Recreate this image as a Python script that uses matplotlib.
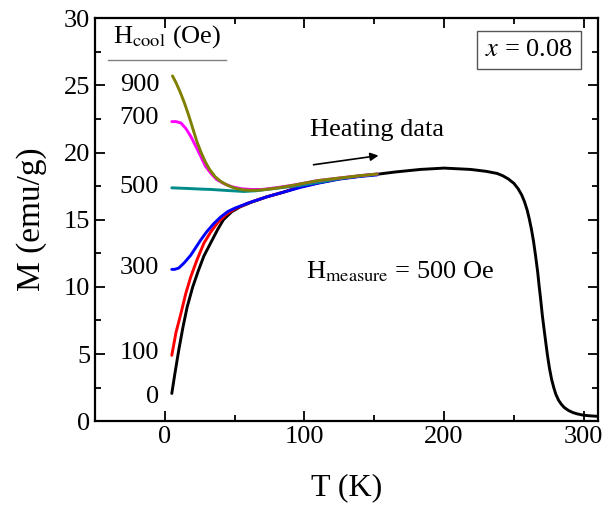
import numpy as np
import matplotlib.pyplot as plt
from matplotlib.ticker import MultipleLocator

plt.rcParams['font.family'] = ['Liberation Serif', 'DejaVu Serif']
plt.rcParams['mathtext.fontset'] = 'stix'

# heating curves, H_measure = 500 Oe
t_0 = [5, 7, 10, 13, 16, 20, 24, 28, 33, 38, 42, 48, 54, 62, 73, 85, 97, 110, 125, 140, 152,
       165, 183, 200, 219, 230, 238, 242, 246, 250, 253, 255.5, 257.5, 259.5, 261, 262.5, 264,
       265.5, 267, 268, 269.2, 270.3, 271.5, 272.8, 274, 275.5, 277, 278.5, 280, 282, 284, 286,
       289, 292, 295, 299, 303, 307, 310]
m_0 = [2.06, 3.4, 5.3, 7.0, 8.5, 10.0, 11.2, 12.3, 13.3, 14.3, 15.0, 15.6, 15.96, 16.3, 16.7, 17.05,
       17.45, 17.75, 18.05, 18.25, 18.38, 18.55, 18.74, 18.84, 18.74, 18.6, 18.44, 18.27, 18.03, 17.7,
       17.3, 16.85, 16.35, 15.7, 15.05, 14.3, 13.4, 12.3, 11.1, 10.1, 9.0, 7.9, 6.9, 5.85, 4.9,
       3.9, 3.1, 2.5, 2.0, 1.55, 1.25, 1.02, 0.8, 0.65, 0.55, 0.46, 0.41, 0.38, 0.36]

t_100 = [5, 8, 11.5, 15, 18.6, 23, 28, 33, 38, 44, 50, 60, 73, 85, 97, 110, 125, 140, 152]
m_100 = [4.9, 6.6, 8.0, 9.5, 10.75, 12.0, 13.25, 14.1, 14.8, 15.4, 15.8, 16.25, 16.7, 17.05,
         17.45, 17.75, 18.05, 18.25, 18.38]

t_300 = [5, 7, 10, 14, 18.6, 22, 25.8, 30, 35, 40, 45, 50, 60, 73, 85, 97, 110, 125, 140, 152]
m_300 = [11.3, 11.3, 11.4, 11.8, 12.36, 12.9, 13.5, 14.1, 14.7, 15.2, 15.6, 15.85, 16.25, 16.7,
         17.05, 17.4, 17.72, 18.02, 18.22, 18.33]

t_500 = [5, 15, 25, 33, 45, 56.5, 65, 73, 85, 97, 110, 125, 140, 152]
m_500 = [17.37, 17.33, 17.28, 17.25, 17.17, 17.1, 17.15, 17.25, 17.4, 17.55, 17.78, 18.05, 18.25, 18.38]

t_700 = [5, 8, 11.5, 15, 18.6, 22, 25.8, 29, 33, 37, 42, 48, 55, 62, 70, 80, 92, 109, 125, 140, 152]
m_700 = [22.3, 22.3, 22.2, 21.8, 21.2, 20.5, 19.7, 19.0, 18.45, 18.0, 17.7, 17.45, 17.3, 17.25,
         17.25, 17.38, 17.57, 17.9, 18.1, 18.28, 18.4]

t_900 = [5.5, 8, 11, 14, 17, 20, 23, 26, 29, 32, 36, 40, 45, 50, 56, 62, 68, 80, 92.5, 109, 125, 140, 152]
m_900 = [25.7, 25.2, 24.5, 23.7, 22.8, 21.8, 20.8, 20.0, 19.3, 18.75, 18.2, 17.85, 17.55, 17.35,
         17.22, 17.18, 17.2, 17.35, 17.57, 17.9, 18.1, 18.28, 18.4]

curves = [(t_0, m_0, 'black'), (t_100, m_100, 'red'), (t_300, m_300, 'blue'),
          (t_500, m_500, '#008b8b'), (t_700, m_700, 'magenta'), (t_900, m_900, '#808000')]

h_labels = ['900', '700', '500', '300', '100', '0']
h_label_y = [25.0, 22.6, 17.4, 11.4, 5.06, 1.8]

fig = plt.figure(figsize=(6.05, 5.05), dpi=100)
ax = fig.add_axes([0.157, 0.166, 0.831, 0.798])

for t, m, c in curves:
    ax.plot(t, m, color=c, lw=2.1, solid_capstyle='round', solid_joinstyle='round')

ax.set_xlim(-50, 310)
ax.set_ylim(0, 30)
ax.xaxis.set_major_locator(MultipleLocator(100))
ax.xaxis.set_minor_locator(MultipleLocator(50))
ax.yaxis.set_major_locator(MultipleLocator(5))
ax.yaxis.set_minor_locator(MultipleLocator(2.5))
ax.tick_params(which='both', direction='in', top=True, right=True, labelsize=19, width=1.3)
ax.tick_params(which='major', length=7)
ax.tick_params(which='minor', length=4)
for s in ax.spines.values():
    s.set_linewidth(1.6)

ax.set_xlabel('T (K)', fontsize=23, labelpad=18)
ax.set_ylabel('M (emu/g)', fontsize=24, labelpad=12)

for lab, y in zip(h_labels, h_label_y):
    ax.text(-4, y, lab, ha='right', va='center', fontsize=19)

ax.text(2, 28.6, r'H$_{\mathrm{cool}}$ (Oe)', ha='center', va='center', fontsize=19)
ax.plot([-41, 44], [26.9, 26.9], color='gray', lw=1.0, clip_on=False)

ax.text(151.7, 21.7, 'Heating data', ha='center', va='center', fontsize=19)
ax.annotate('', xy=(155, 19.8), xytext=(104.5, 19.06),
            arrowprops=dict(arrowstyle='-|>', color='black', lw=1.2, mutation_scale=12))

ax.text(101, 11.1, r'H$_{\mathrm{measure}}$ = 500 Oe', ha='left', va='center', fontsize=19)

ax.text(0.863, 0.922, r'$x$ = 0.08', transform=ax.transAxes, ha='center', va='center', fontsize=19,
        bbox=dict(boxstyle='square,pad=0.3', fc='white', ec='#555555', lw=1.0))

fig.savefig('out.png', dpi=100)
